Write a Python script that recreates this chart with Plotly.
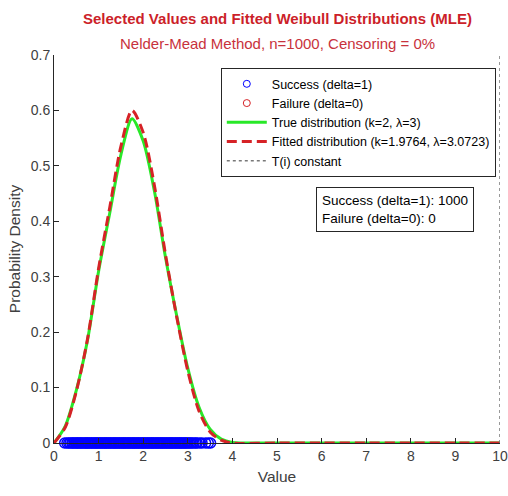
import plotly.graph_objects as go

# Observed values for the successful units (delta = 1)
success_times = [
    0.24, 0.29, 0.33, 0.36, 0.40, 0.42, 0.45, 0.48, 0.51, 0.53, 0.56, 0.59,
    0.61, 0.64, 0.67, 0.70, 0.72, 0.75, 0.77, 0.80, 0.83, 0.85, 0.88, 0.91,
    0.93, 0.96, 0.98, 1.01, 1.04, 1.06, 1.09, 1.12, 1.14, 1.17, 1.19, 1.22,
    1.25, 1.27, 1.30, 1.33, 1.35, 1.38, 1.40, 1.43, 1.46, 1.48, 1.51, 1.54,
    1.56, 1.59, 1.61, 1.64, 1.67, 1.69, 1.72, 1.75, 1.77, 1.80, 1.82, 1.85,
    1.88, 1.90, 1.93, 1.96, 1.98, 2.01, 2.03, 2.06, 2.09, 2.11, 2.14, 2.17,
    2.19, 2.22, 2.24, 2.27, 2.30, 2.32, 2.35, 2.38, 2.40, 2.43, 2.45, 2.48,
    2.51, 2.53, 2.56, 2.59, 2.61, 2.64, 2.66, 2.69, 2.72, 2.74, 2.77, 2.80,
    2.82, 2.85, 2.87, 2.90, 2.93, 2.95, 2.98, 3.01, 3.04, 3.07, 3.10, 3.14,
    3.18, 3.21, 3.27, 3.32, 3.40, 3.46, 3.51,
]
# Censored units (delta = 0): none at 0% censoring
failure_times = []

# Density curves evaluated on a value grid
grid_x = [0.0, 0.25, 0.5, 0.75, 1.0, 1.25, 1.5, 1.75, 2.0, 2.25, 2.5, 2.75,
          3.0, 3.25, 3.5, 3.75, 4.0, 5.0, 6.0, 7.0, 8.0, 9.0, 10.0]
true_pdf = [0.0, 0.030, 0.095, 0.185, 0.310, 0.415, 0.520, 0.585, 0.545,
            0.455, 0.335, 0.230, 0.135, 0.065, 0.025, 0.007, 0.001,
            0.0, 0.0, 0.0, 0.0, 0.0, 0.0]
fitted_pdf = [0.0, 0.028, 0.093, 0.187, 0.315, 0.425, 0.535, 0.600, 0.560,
              0.465, 0.340, 0.228, 0.130, 0.058, 0.020, 0.005, 0.0,
              0.0, 0.0, 0.0, 0.0, 0.0, 0.0]

t_constant = 10.0
y_top = 0.7

n_success = 1000
n_failure = 0

FONT = "Liberation Sans, Arial, sans-serif"
BLUE = "rgb(0,0,255)"
GREEN = "rgb(40,232,40)"
RED = "rgb(214,34,38)"
AXIS_TEXT = "#404040"

fig = go.Figure()

# Observed successes as open circles along the baseline
fig.add_trace(go.Scatter(
    x=success_times, y=[0] * len(success_times), mode="markers",
    marker=dict(symbol="circle-open", size=10, color=BLUE,
                line=dict(width=1.5, color=BLUE)),
    showlegend=False, hoverinfo="x", cliponaxis=False,
))
fig.add_trace(go.Scatter(
    x=[None], y=[None], mode="markers", name="Success (delta=1)",
    marker=dict(symbol="circle-open", size=7, color=BLUE,
                line=dict(width=1, color=BLUE)),
))
fig.add_trace(go.Scatter(
    x=failure_times if failure_times else [None],
    y=[0] * len(failure_times) if failure_times else [None],
    mode="markers", name="Failure (delta=0)",
    marker=dict(symbol="circle-open", size=7, color=RED,
                line=dict(width=1, color=RED)),
    cliponaxis=False,
))
fig.add_trace(go.Scatter(
    x=grid_x, y=true_pdf, mode="lines", name="True distribution (k=2, λ=3)",
    line=dict(color=GREEN, width=3, shape="spline", smoothing=0.8),
    cliponaxis=False,
))
fig.add_trace(go.Scatter(
    x=grid_x, y=fitted_pdf, mode="lines",
    name="Fitted distribution (k=1.9764, λ=3.0723)",
    line=dict(color=RED, width=3, dash="10px,5px", shape="spline", smoothing=0.8),
    cliponaxis=False,
))
fig.add_trace(go.Scatter(
    x=[t_constant, t_constant], y=[0, y_top], mode="lines", name="T(i) constant",
    line=dict(color="rgb(120,120,120)", width=1.5, dash="dot"),
    cliponaxis=False,
))

# Title and subtitle
fig.add_annotation(
    xref="paper", yref="paper", x=0.5, y=1.0, yshift=37,
    xanchor="center", yanchor="middle", showarrow=False,
    text="<b>Selected Values and Fitted Weibull Distributions (MLE)</b>",
    font=dict(family=FONT, size=15, color="#cc1f2a"),
)
fig.add_annotation(
    xref="paper", yref="paper", x=0.5, y=1.0, yshift=12,
    xanchor="center", yanchor="middle", showarrow=False,
    text="Nelder-Mead Method, n=1000, Censoring = 0%",
    font=dict(family=FONT, size=15, color="#c8323c"),
)

# Counts box
fig.add_annotation(
    xref="paper", yref="paper", x=0.7646, y=0.603,
    xanchor="center", yanchor="middle", align="left",
    text=f"Success (delta=1): {n_success}<br>Failure (delta=0): {n_failure}",
    showarrow=False, font=dict(family=FONT, size=13.5, color="black"),
    bordercolor="#262626", borderwidth=1, borderpad=5, bgcolor="white",
)

fig.update_layout(
    width=508, height=496,
    margin=dict(l=54, r=8, t=55, b=53, autoexpand=False),
    paper_bgcolor="white", plot_bgcolor="white",
    font=dict(family=FONT, color=AXIS_TEXT),
    xaxis=dict(
        range=[0, 10], tickmode="array", tickvals=list(range(0, 11)),
        ticks="inside", ticklen=5, tickcolor="#262626",
        showline=True, linecolor="#262626", linewidth=1,
        showgrid=False, zeroline=False, automargin=False,
        tickfont=dict(size=14, color=AXIS_TEXT),
        title=dict(text="Value", font=dict(size=15.5, color=AXIS_TEXT), standoff=8),
    ),
    yaxis=dict(
        range=[0, y_top], tickmode="array",
        tickvals=[0, 0.1, 0.2, 0.3, 0.4, 0.5, 0.6, 0.7],
        ticktext=["0", "0.1", "0.2", "0.3", "0.4", "0.5", "0.6", "0.7"],
        ticks="inside", ticklen=5, tickcolor="#262626",
        showline=True, linecolor="#262626", linewidth=1,
        showgrid=False, zeroline=False, automargin=False,
        tickfont=dict(size=14, color=AXIS_TEXT),
        title=dict(text="Probability Density", font=dict(size=15.5, color=AXIS_TEXT),
                   standoff=6),
    ),
    legend=dict(
        x=0.374, y=0.966, xanchor="left", yanchor="top",
        bgcolor="white", bordercolor="#262626", borderwidth=1,
        font=dict(family=FONT, size=12.5, color="black"),
        itemwidth=40, tracegroupgap=0,
    ),
)

fig.write_html("out.html")
